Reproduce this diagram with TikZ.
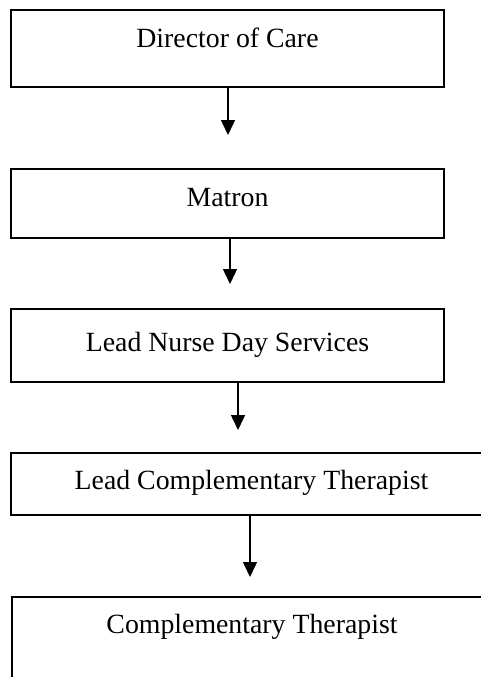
\documentclass[tikz,border=0pt]{standalone}
\usepackage{fontspec}
\setmainfont{Liberation Serif}
\usetikzlibrary{arrows.meta}
\tikzset{
  box/.style={draw=black, line width=1.5pt, anchor=north west, inner sep=0pt, outer sep=0pt,
    align=center, font=\fontsize{27.8}{33}\selectfont},
  link/.style={line width=1.5pt, -{Triangle[width=14pt,length=15pt]}}
}
\begin{document}
\begin{tikzpicture}[x=1pt,y=-1pt]
\useasboundingbox (0,0) rectangle (481,677);
\clip (0,0) rectangle (481,677);
\node[box, minimum width=433pt, minimum height=77pt, text height=38pt, text depth=39pt] (b1) at (11,10) {Director of Care};
\node[box, minimum width=433pt, minimum height=69pt, text height=37pt, text depth=32pt] (b2) at (11,169) {Matron};
\node[box, minimum width=433pt, minimum height=73pt, text height=42pt, text depth=31pt] (b3) at (11,309) {Lead Nurse Day Services};
\node[box, minimum width=481pt, minimum height=62pt, text height=36pt, text depth=26pt] (b4) at (11,453) {Lead Complementary Therapist};
\node[box, minimum width=480pt, minimum height=200pt, text height=36pt, text depth=164pt] (b5) at (12,597) {Complementary Therapist};
\coordinate (t1) at (228,135);
\coordinate (t2) at (230,284);
\coordinate (t3) at (238,430);
\coordinate (t4) at (250,577);
\draw[link] (b1.south -| t1) -- (t1);
\draw[link] (b2.south -| t2) -- (t2);
\draw[link] (b3.south -| t3) -- (t3);
\draw[link] (b4.south -| t4) -- (t4);
\end{tikzpicture}
\end{document}
